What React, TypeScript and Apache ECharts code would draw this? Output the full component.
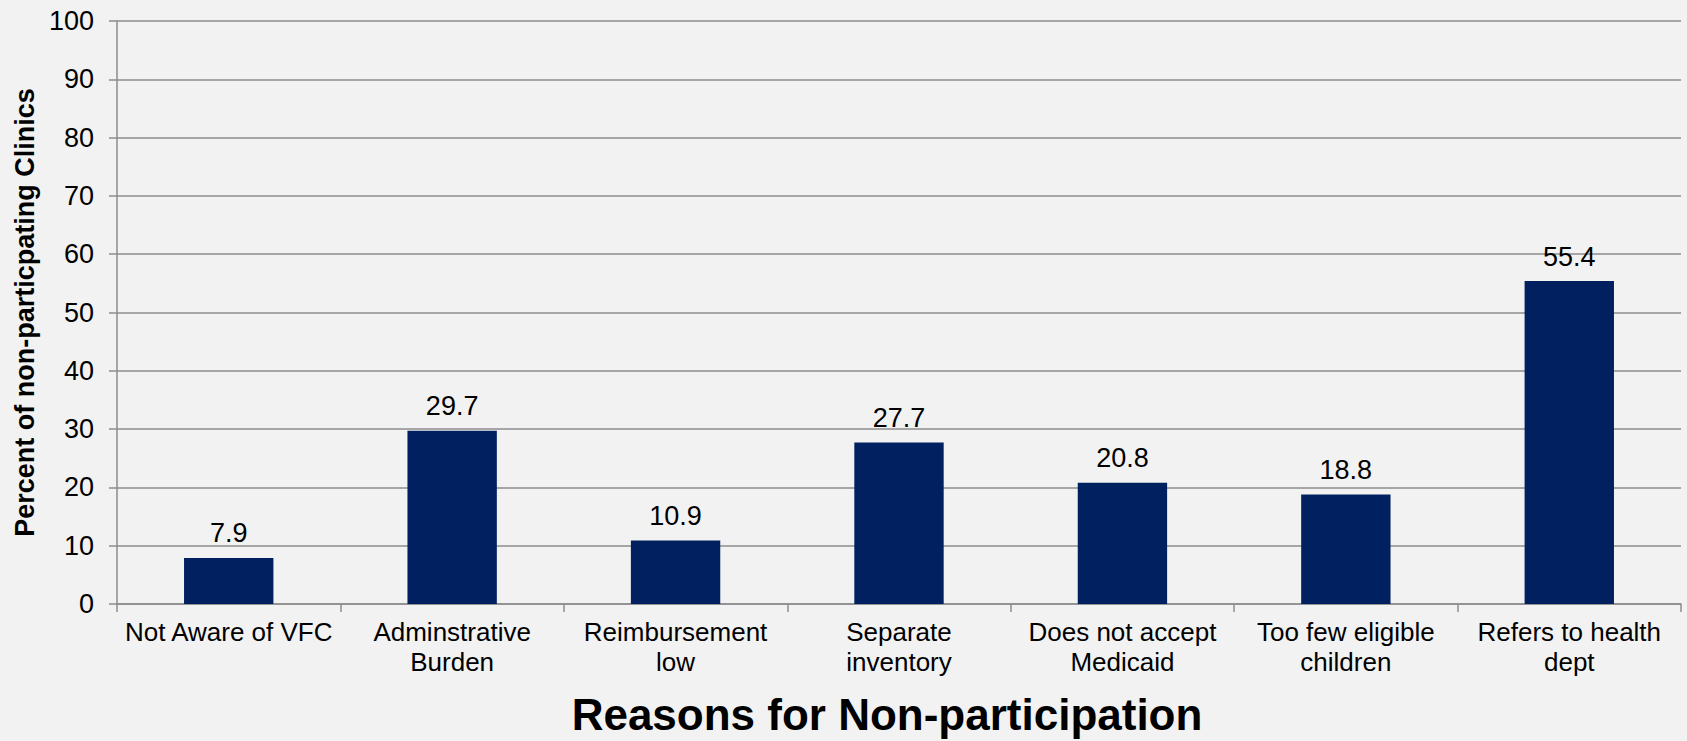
import React, { useEffect, useRef } from "react";
import * as echarts from "echarts";

const categories = [
  "Not Aware of VFC",
  "Adminstrative\nBurden",
  "Reimbursement\nlow",
  "Separate\ninventory",
  "Does not accept\nMedicaid",
  "Too few eligible\nchildren",
  "Refers to health\ndept",
];
const values = [7.9, 29.7, 10.9, 27.7, 20.8, 18.8, 55.4];
const yTicks = { min: 0, max: 100, interval: 10 };
const xTitle = "Reasons for Non-participation";
const yTitle = "Percent of non-particpating Clinics";

const FONT = "'Liberation Sans', Arial, sans-serif";

export default function App() {
  const ref = useRef<HTMLDivElement>(null);
  useEffect(() => {
    document.body.style.margin = "0";
    document.body.style.background = "#f2f2f2";
    const chart = echarts.init(ref.current!, undefined, { renderer: "svg" });
    chart.setOption({
      animation: false,
      backgroundColor: "#f2f2f2",
      textStyle: { fontFamily: FONT },
      grid: { left: 117, right: 6, top: 21, bottom: 133, containLabel: false },
      xAxis: {
        type: "category",
        data: categories,
        name: xTitle,
        nameLocation: "middle",
        nameGap: 88,
        nameTextStyle: {
          fontSize: 44,
          fontWeight: "bold",
          color: "#000",
          fontFamily: FONT,
          padding: [0, 24, 0, 0],
        },
        axisLine: { lineStyle: { color: "#8c8c8c", width: 1.5 } },
        axisTick: { show: true, length: 8, lineStyle: { color: "#8c8c8c", width: 1.5 } },
        axisLabel: {
          interval: 0,
          fontSize: 26,
          lineHeight: 30,
          margin: 13,
          color: "#000",
          fontFamily: FONT,
        },
        splitLine: { show: false },
      },
      yAxis: {
        type: "value",
        min: yTicks.min,
        max: yTicks.max,
        interval: yTicks.interval,
        name: yTitle,
        nameLocation: "middle",
        nameGap: 76,
        nameRotate: 90,
        nameTextStyle: { fontSize: 27, fontWeight: "bold", color: "#000", fontFamily: FONT },
        axisLine: { show: true, lineStyle: { color: "#8c8c8c", width: 1.5 } },
        axisTick: { show: true, length: 8, lineStyle: { color: "#8c8c8c", width: 1.5 } },
        axisLabel: { fontSize: 27, margin: 23, color: "#000", fontFamily: FONT },
        splitLine: { show: true, lineStyle: { color: "#8c8c8c", width: 1.5 } },
      },
      series: [
        {
          type: "bar",
          data: values,
          barWidth: "40%",
          itemStyle: { color: "#002060" },
          label: {
            show: true,
            position: "top",
            distance: 11,
            fontSize: 27,
            color: "#000",
            fontFamily: FONT,
            formatter: (p: any) => p.value.toFixed(1),
          },
        },
      ],
    });
    return () => chart.dispose();
  }, []);
  return (
    <div
      ref={ref}
      style={{ position: "absolute", left: 0, top: 0, width: 1687, height: 741, background: "#f2f2f2" }}
    />
  );
}
